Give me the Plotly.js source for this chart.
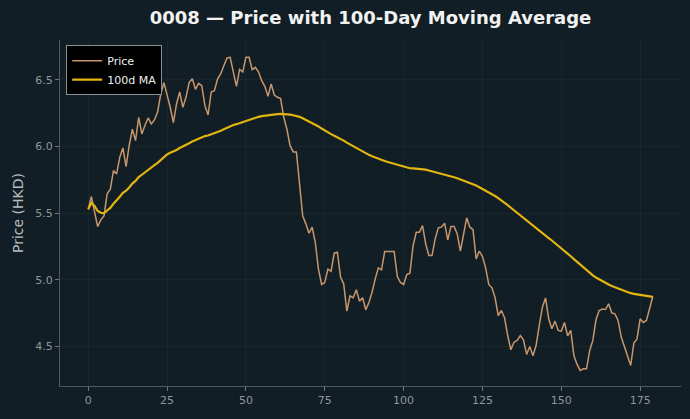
<!DOCTYPE html>
<html>
<head>
<meta charset="utf-8">
<script src="https://cdn.plot.ly/plotly-3.0.1.min.js"></script>
<style>
  html, body { margin: 0; padding: 0; background: #111e25; }
  #chart { width: 690px; height: 419px; }
</style>
</head>
<body>
<div id="chart"></div>
<script>
// Daily closing prices (HKD) for 0008
const prices = [
  5.53, 5.625, 5.51, 5.40, 5.45, 5.48, 5.645, 5.68, 5.82, 5.795,
  5.92, 5.99, 5.85, 6.01, 6.13, 6.045, 6.22, 6.095, 6.16, 6.215,
  6.17, 6.20, 6.26, 6.395, 6.48, 6.395, 6.295, 6.18, 6.32, 6.41,
  6.295, 6.37, 6.48, 6.51, 6.43, 6.475, 6.457, 6.307, 6.237, 6.41,
  6.42, 6.507, 6.545, 6.607, 6.665, 6.67, 6.56, 6.452, 6.58, 6.56,
  6.67, 6.67, 6.577, 6.595, 6.56, 6.495, 6.452, 6.377, 6.47, 6.387,
  6.37, 6.36, 6.22, 6.13, 6.007, 5.96, 5.96, 5.71, 5.48, 5.42,
  5.35, 5.395, 5.28, 5.08, 4.965, 4.98, 5.08, 5.065, 5.20, 5.207,
  5.02, 4.97, 4.765, 4.88, 4.865, 4.925, 4.84, 4.865, 4.775, 4.83,
  4.907, 5.007, 5.09, 5.075, 5.212, 5.212, 5.212, 5.212, 5.025, 4.98,
  4.965, 5.04, 5.05, 5.257, 5.357, 5.357, 5.407, 5.27, 5.182, 5.182,
  5.307, 5.39, 5.395, 5.425, 5.30, 5.40, 5.40, 5.345, 5.215, 5.332,
  5.465, 5.395, 5.377, 5.157, 5.215, 5.175, 5.09, 4.965, 4.94, 4.865,
  4.732, 4.77, 4.715, 4.582, 4.475, 4.532, 4.545, 4.582, 4.55, 4.44,
  4.50, 4.43, 4.507, 4.657, 4.795, 4.864, 4.707, 4.632, 4.69, 4.62,
  4.615, 4.68, 4.58, 4.62, 4.43, 4.365, 4.32, 4.332, 4.332, 4.47,
  4.545, 4.70, 4.77, 4.78, 4.777, 4.82, 4.752, 4.745, 4.695, 4.57,
  4.495, 4.43, 4.357, 4.525, 4.557, 4.707, 4.68, 4.695, 4.795, 4.875
];

const maWindow = 100;
const xTicks = [0, 25, 50, 75, 100, 125, 150, 175];
const yTicks = [4.5, 5.0, 5.5, 6.0, 6.5];
const yTickLabels = ['4.5', '5.0', '5.5', '6.0', '6.5'];

// Trading-day index along the x axis
const days = prices.map((_, i) => i);

// Rolling mean over the trailing window (shorter window at the start)
const movingAvg = prices.map((_, i) => {
  const start = Math.max(0, i - maWindow + 1);
  let sum = 0;
  for (let k = start; k <= i; k++) sum += prices[k];
  return sum / (i - start + 1);
});

const traces = [
  {
    x: days, y: prices, type: 'scatter', mode: 'lines', name: 'Price',
    line: { color: '#c8966a', width: 1.5 }
  },
  {
    x: days, y: movingAvg, type: 'scatter', mode: 'lines', name: '100d MA',
    line: { color: '#e2b510', width: 2.2 }
  }
];

const axisCommon = {
  showline: true, linecolor: '#4d5a60', linewidth: 1,
  ticks: 'outside', tickcolor: '#6b777c', ticklen: 4, tickwidth: 1,
  tickfont: { family: 'DejaVu Sans', size: 11, color: '#8f979b' },
  showgrid: true, gridcolor: 'rgba(255,255,255,0.035)', gridwidth: 1,
  zeroline: false, mirror: false
};

const layout = {
  width: 690, height: 419,
  paper_bgcolor: '#111e25', plot_bgcolor: '#111e25',
  margin: { l: 60, r: 9, t: 40, b: 33, pad: 0 },
  title: {
    text: '<b>0008 — Price with 100-Day Moving Average</b>',
    font: { family: 'DejaVu Sans', size: 18, color: '#f2f2f2' },
    x: 0.537, xanchor: 'center', y: 0.957, yanchor: 'middle'
  },
  xaxis: Object.assign({}, axisCommon, {
    range: [-8.95, 187.95], tickvals: xTicks
  }),
  yaxis: Object.assign({}, axisCommon, {
    range: [4.203, 6.80], tickvals: yTicks, ticktext: yTickLabels,
    title: { text: 'Price (HKD)', font: { family: 'DejaVu Sans', size: 14, color: '#b5bcbf' }, standoff: 8 }
  }),
  showlegend: true,
  legend: {
    x: 0.01, y: 0.985, xanchor: 'left', yanchor: 'top',
    bgcolor: '#000000', bordercolor: '#8a8f92', borderwidth: 1,
    font: { family: 'DejaVu Sans', size: 11, color: '#eeeeee' },
    itemwidth: 30, tracegroupgap: 0
  }
};

Plotly.newPlot('chart', traces, layout, { displayModeBar: false, staticPlot: true });
</script>
</body>
</html>
